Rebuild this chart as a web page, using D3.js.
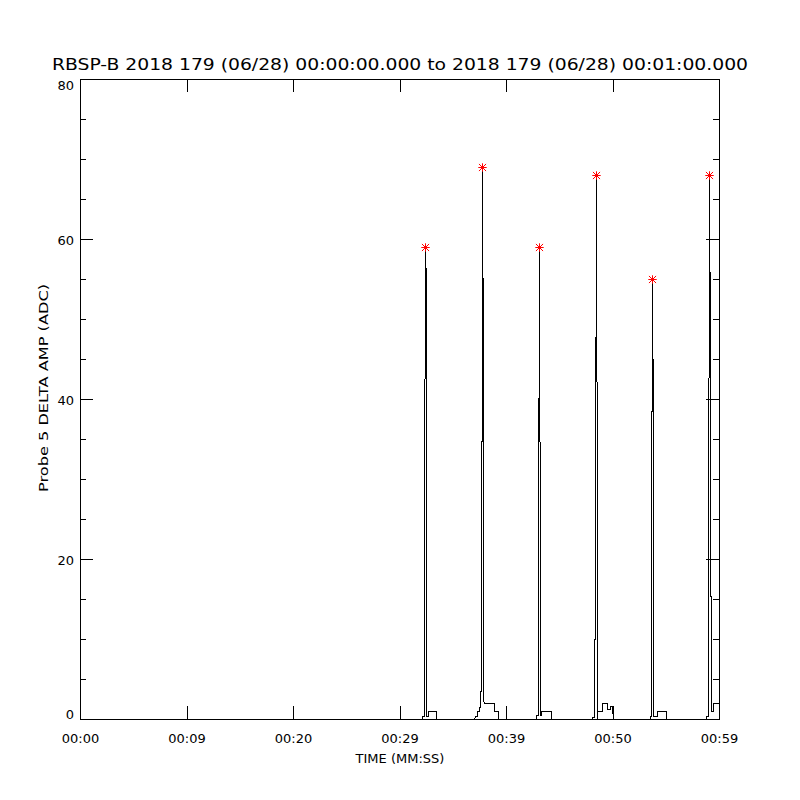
<!DOCTYPE html>
<html>
<head>
<meta charset="utf-8">
<script src="https://cdn.jsdelivr.net/npm/d3@7"></script>
<style>
  html, body { margin: 0; padding: 0; background: #fff; }
  text { font-family: "DejaVu Sans", sans-serif; fill: #000; }
</style>
</head>
<body>
<svg id="chart" width="800" height="800"></svg>
<script>
// ---- data (time in seconds since 00:00:00, amplitude in ADC) ----
const titleText = "RBSP-B 2018 179 (06/28) 00:00:00.000 to 2018 179 (06/28) 00:01:00.000";
const xLabel = "TIME (MM:SS)";
const yLabel = "Probe 5 DELTA AMP (ADC)";
const xTickValues = [0, 10, 20, 30, 40, 50, 60];
const xTickLabels = ["00:00", "00:09", "00:20", "00:29", "00:39", "00:50", "00:59"];
const yTickValues = [0, 20, 40, 60, 80];
const yMinorStep = 5;

const baseline = [[0, 0]];
const burst1 = [[32.13,0],[32.15,0.4],[32.31,0.4],[32.33,42],[32.38,43.5],[32.44,59],[32.49,0.4],[32.64,0.4],[32.66,1],[33.43,1],[33.45,0]];
const burst2 = [[37.03,0],[37.06,0.4],[37.25,0.4],[37.27,1],[37.47,1],[37.50,1.5],[37.59,1.5],[37.62,5],[37.65,18],[37.73,44],[37.78,69],[37.84,9.5],[37.89,2],[38.83,2],[38.85,1],[39.28,1],[39.30,0]];
const burst3 = [[42.84,0],[42.86,0.5],[43.01,0.5],[43.05,39.5],[43.10,47],[43.13,59],[43.17,0.5],[43.27,0.5],[43.28,1],[44.25,1],[44.27,0]];
const burst4 = [[48.09,0],[48.11,0.3],[48.26,0.3],[48.28,1],[48.33,15],[48.40,46],[48.47,68],[48.53,13],[48.56,0],[48.59,1],[48.99,1],[49.01,2],[49.46,2],[49.48,1.2],[49.73,1.2],[49.75,1.6],[49.99,1.6],[50.01,0]];
const burst5 = [[53.53,0],[53.55,0.4],[53.63,0.4],[53.65,35],[53.70,47],[53.74,55],[53.83,0.4],[54.15,0.4],[54.17,1],[54.99,1],[55.01,0]];
const burst6 = [[58.78,0],[58.80,0.4],[58.96,0.4],[59.05,68],[59.14,49.5],[59.20,16],[59.28,1],[59.46,1],[59.48,2],[60.00,2]];

const bursts = [burst1, burst2, burst3, burst4, burst5, burst6];
const series = baseline.concat(...bursts);

// ---- layout ----
const svg = d3.select("#chart");
const L = 80, R = 719, T = 79, B = 719;
const x = d3.scaleLinear().domain([0, 60]).range([L, R]);
const y = d3.scaleLinear().domain([0, 80]).range([B, T]);

// data line (shifted to pixel centres like the axes)
const line = d3.line().x(d => x(d[0])).y(d => y(d[1]));
svg.append("path")
  .datum(series)
  .attr("transform", "translate(0.5,0.5)")
  .attr("d", line)
  .attr("fill", "none")
  .attr("stroke", "#000")
  .attr("stroke-width", 1)
  .attr("shape-rendering", "crispEdges");

// axes
const g = svg.append("g").attr("shape-rendering", "crispEdges");
const bottomAxis = d3.axisBottom(x).tickValues(xTickValues)
  .tickSizeInner(-13).tickSizeOuter(0).tickFormat((d, i) => xTickLabels[i]);
const topAxis = d3.axisTop(x).tickValues(xTickValues)
  .tickSizeInner(-13).tickSizeOuter(0).tickFormat("");
const yMinor = d3.range(0, 80 + 0.001, yMinorStep).filter(v => v % 20 !== 0);
const leftAxis = d3.axisLeft(y).tickValues(yTickValues).tickSizeInner(-13).tickSizeOuter(0).tickFormat(d3.format("d"));
const rightAxis = d3.axisRight(y).tickValues(yTickValues).tickSizeInner(-13).tickSizeOuter(0).tickFormat("");
const leftMinor = d3.axisLeft(y).tickValues(yMinor).tickSizeInner(-6).tickSizeOuter(0).tickFormat("");
const rightMinor = d3.axisRight(y).tickValues(yMinor).tickSizeInner(-6).tickSizeOuter(0).tickFormat("");

const gb = g.append("g").attr("transform", `translate(0,${B})`).call(bottomAxis);
g.append("g").attr("transform", `translate(0,${T})`).call(topAxis);
const gl = g.append("g").attr("transform", `translate(${L},0)`).call(leftAxis);
g.append("g").attr("transform", `translate(${R},0)`).call(rightAxis);
g.append("g").attr("transform", `translate(${L},0)`).call(leftMinor);
g.append("g").attr("transform", `translate(${R},0)`).call(rightMinor);

g.selectAll(".domain").attr("stroke", "#000").attr("stroke-width", 1);
g.selectAll(".tick line").attr("stroke", "#000").attr("stroke-width", 1);

gb.selectAll(".tick text")
  .attr("y", 0).attr("dy", null)
  .attr("transform", "translate(0,24)")
  .style("font-size", "13px").style("font-family", "DejaVu Sans, sans-serif");

gl.selectAll(".tick text")
  .attr("x", -6).attr("dy", null)
  .attr("y", d => d === 0 ? -0.5 : (d === 80 ? 10 : 5))
  .style("font-size", "13px").style("font-family", "DejaVu Sans, sans-serif");

// peak markers (asterisks)
const peaks = bursts.map(b => b.reduce((a, c) => (c[1] > a[1] ? c : a)));
const star = svg.append("g").attr("stroke", "#ff0000").attr("stroke-width", 1);
peaks.forEach(p => {
  const cx = Math.round(x(p[0])) + 0.5, cy = Math.round(y(p[1])) + 0.5, r = 4.2;
  const sg = star.append("g");
  sg.append("line").attr("x1", cx - r).attr("x2", cx + r).attr("y1", cy).attr("y2", cy);
  sg.append("line").attr("x1", cx).attr("x2", cx).attr("y1", cy - r).attr("y2", cy + r);
  sg.append("line").attr("x1", cx - r * 0.85).attr("x2", cx + r * 0.85).attr("y1", cy - r * 0.85).attr("y2", cy + r * 0.85);
  sg.append("line").attr("x1", cx - r * 0.85).attr("x2", cx + r * 0.85).attr("y1", cy + r * 0.85).attr("y2", cy - r * 0.85);
  star.append("circle").attr("cx", cx).attr("cy", cy).attr("r", 1.6).attr("fill", "#ff0000").attr("stroke", "none");
});

// titles
svg.append("text")
  .attr("x", 400).attr("y", 70)
  .attr("text-anchor", "middle")
  .attr("textLength", 696).attr("lengthAdjust", "spacingAndGlyphs")
  .style("font-size", "16px")
  .text(titleText);

svg.append("text")
  .attr("x", 400).attr("y", 763)
  .attr("text-anchor", "middle")
  .style("font-size", "13px")
  .text(xLabel);

svg.append("text")
  .attr("transform", "translate(48,388) rotate(-90)")
  .attr("text-anchor", "middle")
  .attr("textLength", 208).attr("lengthAdjust", "spacingAndGlyphs")
  .style("font-size", "13px")
  .text(yLabel);
</script>
</body>
</html>
